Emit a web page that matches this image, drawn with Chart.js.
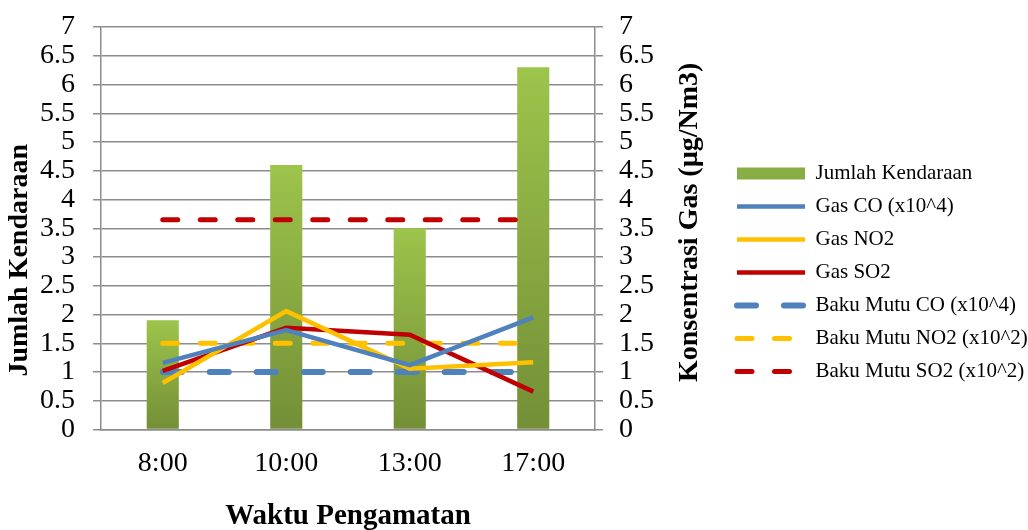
<!DOCTYPE html>
<html lang="id">

<head>
    <meta charset="UTF-8">
    <meta name="viewport" content="width=device-width, initial-scale=1.0">
    <script src="https://cdnjs.cloudflare.com/ajax/libs/Chart.js/4.4.1/chart.umd.min.js"></script>
    <title>Jumlah Kendaraan dan Konsentrasi Gas</title>
    <style>
        html, body { margin: 0; padding: 0; background: #fff; }
        #wrap { width: 1028px; height: 530px; }
    </style>
</head>

<body>
    <div id="wrap"><canvas id="myChart" width="1028" height="530"></canvas></div>

    <script>
        const labels = ['8:00', '10:00', '13:00', '17:00']
        const jumlahKendaraan = [1.9, 4.6, 3.5, 6.3]
        const gasCO = [1.16, 1.73, 1.12, 1.95]
        const gasNO2 = [0.81, 2.06, 1.06, 1.17]
        const gasSO2 = [1.02, 1.77, 1.65, 0.66]
        const bakuMutuCO = [1, 1, 1, 1]
        const bakuMutuNO2 = [1.5, 1.5, 1.5, 1.5]
        const bakuMutuSO2 = [3.65, 3.65, 3.65, 3.65]

        const leftTitle = 'Jumlah Kendaraan'
        const rightTitle = 'Konsentrasi Gas (µg/Nm3)'

        const serif = "'Liberation Serif', 'Times New Roman', serif"
        const gridColor = '#8c8c8c'

        const barFill = (context) => {
            const chart = context.chart
            if (!chart.chartArea || context.type !== 'data') return '#8db14a'
            const y = chart.scales.y
            const top = y.getPixelForValue(context.raw)
            const bottom = y.getPixelForValue(0)
            const g = chart.ctx.createLinearGradient(0, top, 0, bottom)
            g.addColorStop(0, '#9dc44b')
            g.addColorStop(1, '#738f37')
            return g
        }

        const lineSet = (label, data, color, width, dash) => ({
            type: 'line',
            label: label,
            data: data,
            yAxisID: 'y1',
            borderColor: color,
            backgroundColor: color,
            borderWidth: width,
            borderDash: dash,
            borderCapStyle: dash.length ? 'round' : 'butt',
            pointRadius: 0,
            tension: 0,
            order: 1
        })

        // both axis titles read upwards and sit a little off centre, so draw them here
        const axisTitles = {
            id: 'axisTitles',
            afterDraw(chart) {
                const c = chart.ctx
                const y = chart.scales.y
                const y1 = chart.scales.y1
                const draw = (text, x, cy) => {
                    c.save()
                    c.translate(x, cy)
                    c.rotate(-Math.PI / 2)
                    c.font = `bold 28px ${serif}`
                    c.fillStyle = '#000'
                    c.textAlign = 'center'
                    c.textBaseline = 'middle'
                    c.fillText(text, 0, 0)
                    c.restore()
                }
                draw(leftTitle, y.left + 20, (y.top + y.bottom) / 2 + 32)
                draw(rightTitle, y1.right - 35, (y1.top + y1.bottom) / 2 - 6)
            }
        }

        const fixPad = (width) => (scale) => {
            scale.width = width
            scale.paddingTop = 27
            scale.paddingBottom = 0
        }

        const ctx = document.getElementById('myChart').getContext('2d')

        const myChart = new Chart(ctx, {
            data: {
                labels: labels,
                datasets: [
                    {
                        type: 'bar',
                        label: 'Jumlah Kendaraan',
                        data: jumlahKendaraan,
                        backgroundColor: barFill,
                        barPercentage: 0.26,
                        categoryPercentage: 1,
                        yAxisID: 'y',
                        order: 10
                    },
                    lineSet('Gas CO (x10^4)', gasCO, '#4f81bd', 4.5, []),
                    lineSet('Gas NO2', gasNO2, '#ffc000', 4.5, []),
                    lineSet('Gas SO2', gasSO2, '#c00000', 4.5, []),
                    lineSet('Baku Mutu CO (x10^4)', bakuMutuCO, '#4f81bd', 6, [19, 28]),
                    lineSet('Baku Mutu NO2 (x10^2)', bakuMutuNO2, '#ffc000', 5, [15, 22.5]),
                    lineSet('Baku Mutu SO2 (x10^2)', bakuMutuSO2, '#c00000', 5, [15, 22.5])
                ]
            },
            options: {
                responsive: false,
                animation: false,
                layout: { padding: { top: 0, right: 0, bottom: -4, left: 0 } },
                plugins: {
                    tooltip: { enabled: false },
                    legend: {
                        position: 'right',
                        align: 'center',
                        maxWidth: 303,
                        title: { display: true, text: ' ', padding: 0, font: { size: 9 } },
                        labels: {
                            usePointStyle: true,
                            pointStyleWidth: 68,
                            boxWidth: 68,
                            padding: 12,
                            color: '#000',
                            font: { family: serif, size: 21 },
                            generateLabels: (chart) => chart.data.datasets.map((ds, i) => ({
                                text: ds.label,
                                datasetIndex: i,
                                pointStyle: 'line',
                                fillStyle: 'rgba(0,0,0,0)',
                                strokeStyle: ds.type === 'bar' ? '#88ad45' : ds.borderColor,
                                lineWidth: ds.type === 'bar' ? 12 : ds.borderWidth,
                                lineDash: ds.borderDash || [],
                                lineCap: ds.borderDash && ds.borderDash.length ? 'round' : 'butt',
                                fontColor: '#000'
                            }))
                        }
                    }
                },
                scales: {
                    x: {
                        offset: true,
                        grid: { display: false, drawTicks: false },
                        border: { display: true, color: gridColor, width: 1.5 },
                        ticks: { color: '#000', padding: 17, font: { family: serif, size: 28 } },
                        title: {
                            display: true,
                            text: 'Waktu Pengamatan',
                            color: '#000',
                            padding: { top: 2, bottom: 0 },
                            font: { family: serif, size: 29, weight: 'bold' }
                        }
                    },
                    y: {
                        position: 'left',
                        min: 0,
                        max: 7,
                        afterFit: fixPad(101),
                        ticks: {
                            stepSize: 0.5,
                            autoSkip: false,
                            padding: 18,
                            color: '#000',
                            font: { family: serif, size: 28 },
                            callback: (v) => String(v)
                        },
                        grid: { color: gridColor, lineWidth: 1.5, tickLength: 8 },
                        border: { display: true, color: gridColor, width: 1.5 },
                        title: {
                            display: true,
                            text: ' ',
                            padding: { top: 5, bottom: 5 },
                            font: { family: serif, size: 28, weight: 'bold' }
                        }
                    },
                    y1: {
                        position: 'right',
                        min: 0,
                        max: 7,
                        afterFit: fixPad(130),
                        ticks: {
                            stepSize: 0.5,
                            autoSkip: false,
                            padding: 16,
                            color: '#000',
                            font: { family: serif, size: 28 },
                            callback: (v) => String(v)
                        },
                        grid: { drawOnChartArea: false, color: gridColor, lineWidth: 1.5, tickLength: 8 },
                        border: { display: true, color: gridColor, width: 1.5 },
                        title: {
                            display: true,
                            text: ' ',
                            padding: { top: 18, bottom: 19 },
                            font: { family: serif, size: 28, weight: 'bold' }
                        }
                    }
                }
            },
            plugins: [axisTitles]
        })
    </script>
</body>

</html>
